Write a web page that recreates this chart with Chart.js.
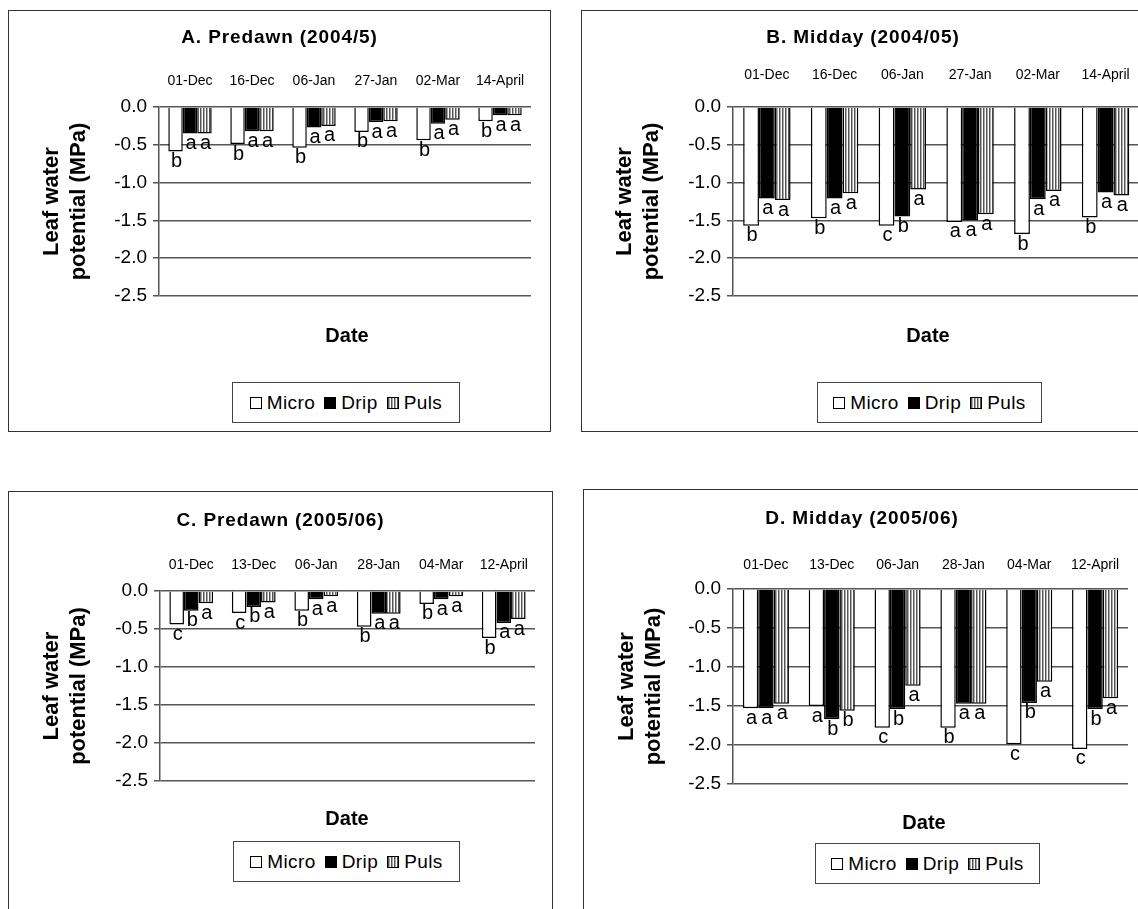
<!DOCTYPE html>
<html>
<head>
<meta charset="utf-8">
<script src="https://cdn.jsdelivr.net/npm/chart.js@4.4.1/dist/chart.umd.min.js"></script>
<style>
  body { margin: 0; width: 1138px; height: 909px; overflow: hidden; background: #fff; position: relative;
         font-family: "Liberation Sans", Arial, sans-serif; color: #000; }
  .box { position: absolute; border: 1.5px solid #333; box-sizing: border-box; }
  canvas { position: absolute; }
  .title, .date { position: absolute; transform: translate(-50%, -50%); font-weight: bold; white-space: nowrap; }
  .title { font-size: 19px; letter-spacing: 0.9px; }
  .date { font-size: 20px; }
  .legend { position: absolute; border: 1px solid #444; box-sizing: border-box; display: flex;
            align-items: center; justify-content: center; font-size: 19px; letter-spacing: 0.4px; background: #fff; }
  .legend .sw { display: inline-block; width: 10px; height: 10px; border: 1px solid #000; margin: 0 5px 0 9px; }
  .legend .sw:first-child { margin-left: 0; }
</style>
</head>
<body>
<script>
// categories
const dates0405 = ['01-Dec', '16-Dec', '06-Jan', '27-Jan', '02-Mar', '14-April'];
const dates0506 = ['01-Dec', '13-Dec', '06-Jan', '28-Jan', '04-Mar', '12-April'];

// A. Predawn 2004/05
const microA = [-0.59, -0.49, -0.54, -0.33, -0.44, -0.19];
const dripA  = [-0.35, -0.32, -0.27, -0.20, -0.22, -0.11];
const pulsA  = [-0.35, -0.32, -0.25, -0.19, -0.17, -0.11];
const lettersA = ['baa', 'baa', 'baa', 'baa', 'baa', 'baa'];

// B. Midday 2004/05
const microB = [-1.57, -1.47, -1.57, -1.52, -1.68, -1.46];
const dripB  = [-1.21, -1.21, -1.45, -1.50, -1.22, -1.13];
const pulsB  = [-1.23, -1.14, -1.09, -1.42, -1.11, -1.17];
const lettersB = ['baa', 'baa', 'cba', 'aaa', 'baa', 'baa'];

// C. Predawn 2005/06
const microC = [-0.44, -0.29, -0.26, -0.47, -0.17, -0.62];
const dripC  = [-0.26, -0.21, -0.11, -0.30, -0.11, -0.42];
const pulsC  = [-0.16, -0.15, -0.07, -0.30, -0.07, -0.37];
const lettersC = ['cba', 'cba', 'baa', 'baa', 'baa', 'baa'];

// D. Midday 2005/06
const microD = [-1.53, -1.50, -1.78, -1.78, -1.99, -2.05];
const dripD  = [-1.53, -1.67, -1.54, -1.47, -1.46, -1.54];
const pulsD  = [-1.47, -1.56, -1.24, -1.47, -1.19, -1.40];
const lettersD = ['aaa', 'abb', 'cba', 'baa', 'cba', 'cba'];

const seriesNames = ['Micro', 'Drip', 'Puls'];
const yTitle = ['Leaf water', 'potential (MPa)'];

Chart.defaults.font.family = '"Liberation Sans", Arial, sans-serif';
Chart.defaults.color = '#000';

// box: [left, top, width, height]; area: chart area inside box [left, top, right, bottom]
const panels = [
  { title: 'A. Predawn (2004/5)', labels: dates0405, data: [microA, dripA, pulsA], letters: lettersA,
    box: [8, 10, 543, 422], area: [151, 97, 523, 286], tickPad: 9, titleY: 37,
    date: [347, 335], legend: [232, 382, 228, 41] },
  { title: 'B. Midday (2004/05)', labels: dates0405, data: [microB, dripB, pulsB], letters: lettersB,
    box: [581, 10, 564, 422], area: [152, 97, 560, 286], tickPad: 15, titleY: 37,
    date: [928, 335], legend: [817, 382, 225, 41] },
  { title: 'C. Predawn (2005/06)', labels: dates0506, data: [microC, dripC, pulsC], letters: lettersC,
    box: [8, 491, 545, 422], area: [152, 100, 527, 290], tickPad: 9, titleY: 520,
    date: [347, 818], legend: [233, 841, 227, 41] },
  { title: 'D. Midday (2005/06)', labels: dates0506, data: [microD, dripD, pulsD], letters: lettersD,
    box: [583, 489, 558, 422], area: [150, 100, 545, 295], tickPad: 7, titleY: 518,
    date: [924, 822], legend: [815, 843, 225, 41] }
];

function stripePattern() {
  const c = document.createElement('canvas');
  c.width = 3; c.height = 4;
  const g = c.getContext('2d');
  g.fillStyle = '#fff'; g.fillRect(0, 0, 3, 4);
  g.fillStyle = '#555'; g.fillRect(0, 0, 1, 4);
  g.fillStyle = '#aaa'; g.fillRect(1, 0, 1, 4);
  return g.createPattern(c, 'repeat');
}

// significance letters under each bar end
function lettersPlugin(letters) {
  return {
    id: 'letters',
    afterDatasetsDraw(chart) {
      const ctx = chart.ctx;
      ctx.save();
      ctx.font = '20px "Liberation Sans", Arial, sans-serif';
      ctx.fillStyle = '#000';
      ctx.textAlign = 'center';
      ctx.textBaseline = 'top';
      chart.data.datasets.forEach((ds, i) => {
        chart.getDatasetMeta(i).data.forEach((bar, j) => {
          ctx.fillText(letters[j][i], bar.x + 1, bar.y);
        });
      });
      ctx.restore();
    }
  };
}

function addDiv(cls, x, y, w, h, html) {
  const d = document.createElement('div');
  d.className = cls;
  d.style.left = x + 'px';
  d.style.top = y + 'px';
  if (w) d.style.width = w + 'px';
  if (h) d.style.height = h + 'px';
  if (html) d.innerHTML = html;
  document.body.appendChild(d);
  return d;
}

panels.forEach(p => {
  const [bx, by, bw, bh] = p.box;
  const [al, at, ar, ab] = p.area;
  addDiv('box', bx, by, bw, bh);

  const canvas = document.createElement('canvas');
  canvas.width = bw; canvas.height = bh;
  canvas.style.left = bx + 'px'; canvas.style.top = by + 'px';
  document.body.appendChild(canvas);

  const fills = ['#fff', '#000', stripePattern()];
  new Chart(canvas, {
    type: 'bar',
    data: {
      labels: p.labels,
      datasets: seriesNames.map((name, i) => ({
        label: name,
        data: p.data[i],
        backgroundColor: fills[i],
        borderColor: '#000',
        borderWidth: 1.5
      }))
    },
    options: {
      responsive: false,
      animation: false,
      layout: { padding: { left: 0, top: 0, right: bw - ar, bottom: bh - ab } },
      datasets: { bar: { categoryPercentage: 0.7, barPercentage: 1 } },
      plugins: { legend: { display: false }, tooltip: { enabled: false } },
      scales: {
        x: {
          position: 'top',
          grid: { display: false },
          border: { display: false },
          ticks: { font: { size: 14 }, padding: p.tickPad, maxRotation: 0, autoSkip: false },
          afterFit: s => { s.height = at; }
        },
        y: {
          min: -2.5, max: 0,
          ticks: { stepSize: 0.5, font: { size: 19 }, padding: 6, callback: v => v.toFixed(1) },
          grid: { color: '#555', lineWidth: 1.5, tickLength: 6 },
          border: { color: '#555', width: 1.5 },
          title: { display: true, text: yTitle, font: { size: 22, weight: 'bold', lineHeight: 1.25 },
                   padding: { top: 30, bottom: 0 } },
          afterFit: s => { s.width = al; }
        }
      }
    },
    plugins: [lettersPlugin(p.letters)]
  });

  addDiv('title', bx + bw / 2, p.titleY, 0, 0, p.title);
  addDiv('date', p.date[0], p.date[1], 0, 0, 'Date');
  const [lx, ly, lw, lh] = p.legend;
  addDiv('legend', lx, ly, lw, lh,
    '<span class="sw" style="background:#fff"></span>Micro' +
    '<span class="sw" style="background:#000"></span>Drip' +
    '<span class="sw" style="background:repeating-linear-gradient(90deg,#555 0 1px,#aaa 1px 2px,#fff 2px 3px)"></span>Puls');
});
</script>
</body>
</html>
